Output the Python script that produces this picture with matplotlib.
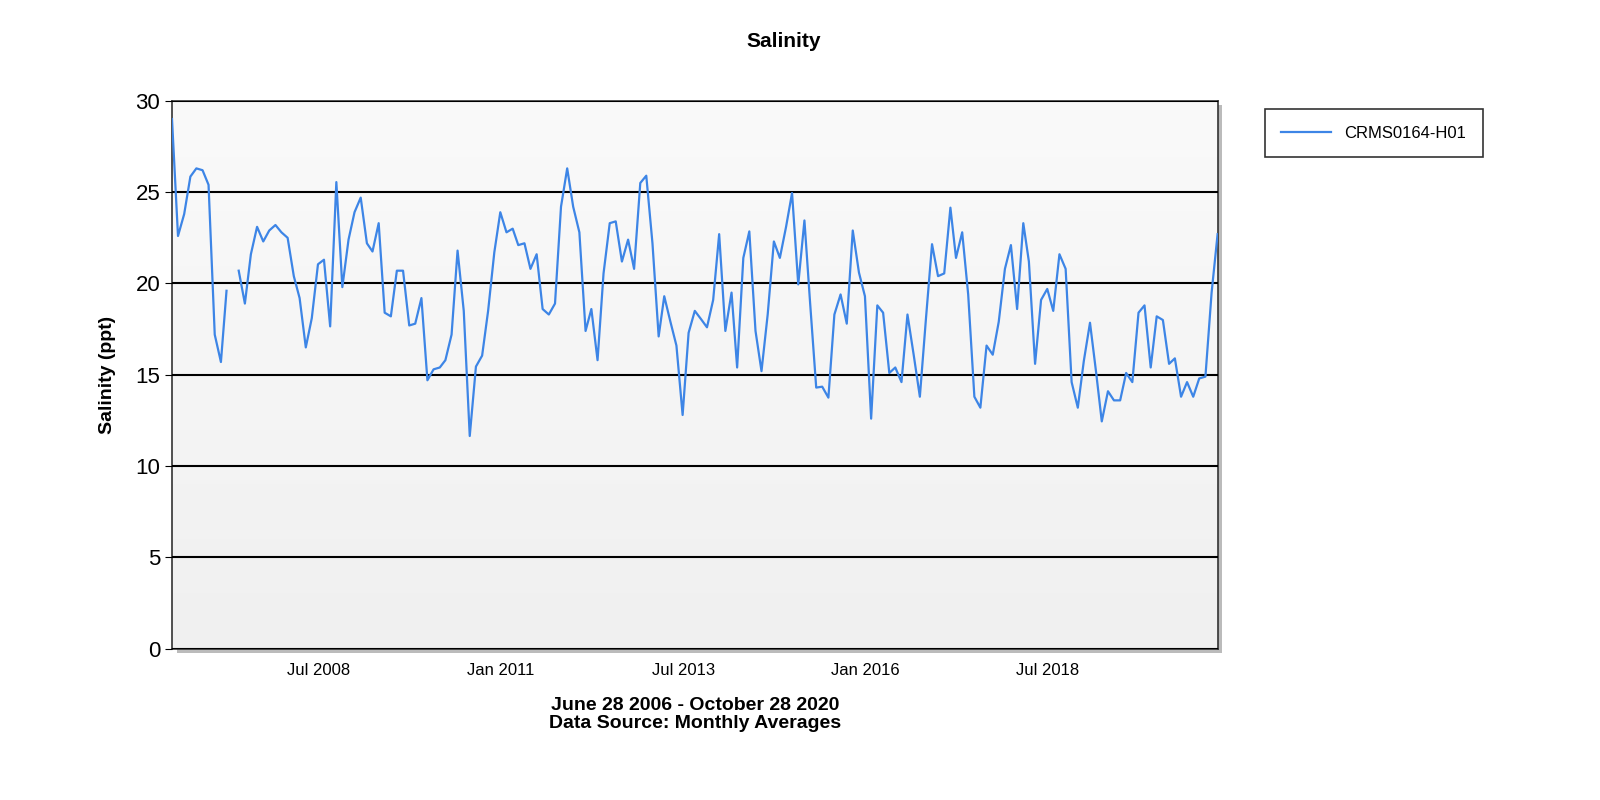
import numpy as np
import pandas as pd
import matplotlib.pyplot as plt
import matplotlib.dates as mdates
from matplotlib.colors import LinearSegmentedColormap

plt.rcParams['font.family'] = ['Liberation Sans', 'DejaVu Sans']

# monthly averages, Jun 2006 .. Oct 2020 (NaN = missing month)
salinity = [
    29.0, 22.6, 23.8, 25.85, 26.3, 26.2, 25.4, 17.2, 15.7, 19.6, np.nan,
    20.7, 18.9, 21.6, 23.1, 22.3, 22.9, 23.2, 22.8, 22.5, 20.4, 19.2,
    16.5, 18.1, 21.05, 21.3, 17.65, 25.55, 19.8, 22.4, 23.9, 24.7, 22.2,
    21.75, 23.3, 18.4, 18.2, 20.7, 20.7, 17.7, 17.8, 19.2, 14.7, 15.3,
    15.4, 15.8, 17.2, 21.8, 18.5, 11.65, 15.45, 16.05, 18.5, 21.7, 23.9,
    22.8, 23.0, 22.1, 22.2, 20.8, 21.6, 18.6, 18.3, 18.9, 24.2, 26.3,
    24.2, 22.8, 17.4, 18.6, 15.8, 20.55, 23.3, 23.4, 21.2, 22.4, 20.8,
    25.5, 25.9, 22.2, 17.1, 19.3, 17.9, 16.6, 12.8, 17.3, 18.5, 18.05,
    17.6, 19.1, 22.7, 17.4, 19.5, 15.4, 21.4, 22.85, 17.4, 15.2, 18.3,
    22.3, 21.4, 23.1, 24.95, 19.95, 23.45, 19.0, 14.3, 14.35, 13.75, 18.3,
    19.4, 17.8, 22.9, 20.6, 19.3, 12.6, 18.8, 18.4, 15.1, 15.4, 14.6,
    18.3, 16.1, 13.8, 18.0, 22.15, 20.4, 20.55, 24.15, 21.4, 22.8, 19.4,
    13.8, 13.2, 16.6, 16.1, 17.9, 20.8, 22.1, 18.6, 23.3, 21.2, 15.6,
    19.1, 19.7, 18.5, 21.6, 20.8, 14.6, 13.2, 15.75, 17.85, 15.1, 12.45,
    14.1, 13.6, 13.6, 15.1, 14.6, 18.4, 18.8, 15.4, 18.2, 18.0, 15.6,
    15.9, 13.8, 14.6, 13.8, 14.8, 14.9, 19.5, 22.7,
]
dates = pd.date_range("2006-06-01", periods=len(salinity), freq="MS") + pd.Timedelta(days=27)
tick_dates = pd.to_datetime(["2008-07-01", "2011-01-01", "2013-07-01", "2016-01-01", "2018-07-01"])
tick_labels = ["Jul 2008", "Jan 2011", "Jul 2013", "Jan 2016", "Jul 2018"]

fig = plt.figure(figsize=(16, 8), dpi=100)
ax = fig.add_axes([0.1075, 0.189, 0.6535, 0.685])

# shadow behind the plot area
shadow = fig.add_axes([0.1075 + 0.003, 0.189 - 0.005, 0.6535, 0.685], zorder=-1)
shadow.set_facecolor("#bbbbbb")
shadow.set_xticks([]); shadow.set_yticks([])
for s in shadow.spines.values():
    s.set_visible(False)

x0, x1 = mdates.date2num(pd.Timestamp("2006-06-28")), mdates.date2num(pd.Timestamp("2020-10-28"))
grad = np.linspace(0, 1, 256).reshape(-1, 1)
ax.imshow(grad, cmap=LinearSegmentedColormap.from_list("g", ["#f0f0f0", "#fafafa"]),
          extent=[x0, x1, 0, 30], aspect="auto", origin="lower", zorder=0)

ax.plot(dates, salinity, color="#3d85e6", lw=1.6, zorder=3, label="CRMS0164-H01")
ax.set_xlim(x0, x1)
ax.set_ylim(0, 30)
ax.set_yticks(range(0, 31, 5))
ax.yaxis.grid(True, color="black", lw=1.5, zorder=1)
ax.set_axisbelow(False)
ax.set_xticks(mdates.date2num(tick_dates))
ax.set_xticklabels(tick_labels, fontsize=12)
ax.tick_params(axis="x", length=0, pad=10)
ax.tick_params(axis="y", labelsize=16, length=5)
for s in ax.spines.values():
    s.set_color("#333333")
    s.set_linewidth(1.2)

ax.set_ylabel("Salinity (ppt)", fontsize=14, fontweight="bold", labelpad=14)
ax.set_xlabel("June 28 2006 - October 28 2020\nData Source: Monthly Averages",
              fontsize=14, fontweight="bold", labelpad=14, linespacing=1.1)
fig.text(0.49, 0.948, "Salinity", ha="center", va="center", fontsize=15, fontweight="bold")

leg = ax.legend(loc="upper left", bbox_to_anchor=(1.037, 1.0), fontsize=12,
                frameon=True, fancybox=False, edgecolor="black", borderpad=1.0,
                handlelength=3)
leg.get_frame().set_linewidth(1.2)

fig.savefig("out.png", dpi=100)
